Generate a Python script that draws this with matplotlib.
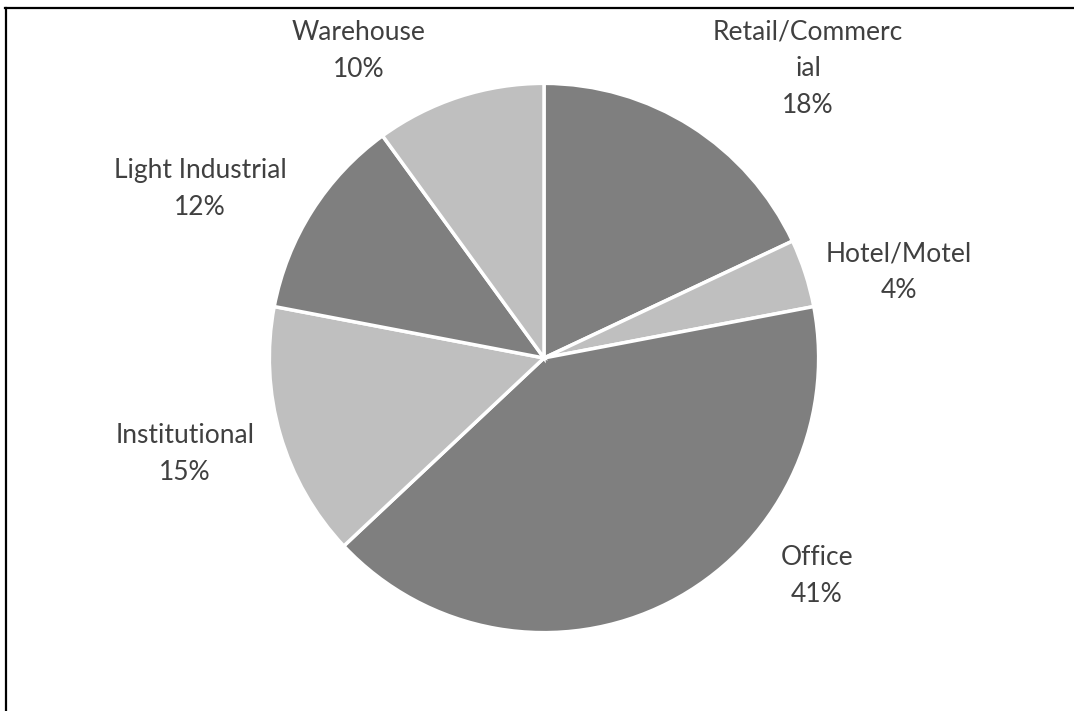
import matplotlib
matplotlib.use("Agg")
import matplotlib.pyplot as plt
from matplotlib.lines import Line2D

# Share of floor area by building type
categories = ["Retail/Commerc\nial", "Hotel/Motel", "Office", "Institutional",
              "Light Industrial", "Warehouse"]
shares = [18, 4, 41, 15, 12, 10]

DARK = "#7f7f7f"
LIGHT = "#bfbfbf"
colors = [DARK, LIGHT, DARK, LIGHT, DARK, LIGHT]

# label anchor points, in units of the pie radius from its centre
label_xy = [(0.967, 1.06), (1.30, 0.315), (1.0, -0.80), (-1.315, -0.35),
            (-1.26, 0.62), (-0.68, 1.125)]

W, H, DPI = 1074, 711, 100
fig = plt.figure(figsize=(W / DPI, H / DPI), dpi=DPI)
ax = fig.add_axes([0, 0, 1, 1])

R_PX = 273.0
CX, CY = 544.0, 358.0

ax.pie(shares, colors=colors, startangle=90, counterclock=False,
       radius=1.006, center=(0, 0),
       wedgeprops=dict(edgecolor="white", linewidth=2.5))

ax.set_xlim(-CX / R_PX, (W - CX) / R_PX)
ax.set_ylim(-(H - CY) / R_PX, CY / R_PX)
ax.set_aspect("equal")
ax.axis("off")

for name, val, (lx, ly) in zip(categories, shares, label_xy):
    ax.text(lx, ly, f"{name}\n{val}%", ha="center", va="center",
            fontsize=19, family=["Lato", "DejaVu Sans"], color="#404040",
            linespacing=1.6)

# frame lines along the top and left edges
fig.add_artist(Line2D([5 / W, 1], [1 - 7.5 / H, 1 - 7.5 / H],
                      transform=fig.transFigure, color="black", lw=1.6))
fig.add_artist(Line2D([5.5 / W, 5.5 / W], [0, 1 - 7.5 / H],
                      transform=fig.transFigure, color="black", lw=1.6))

fig.savefig("out.png", dpi=DPI, facecolor="white")
